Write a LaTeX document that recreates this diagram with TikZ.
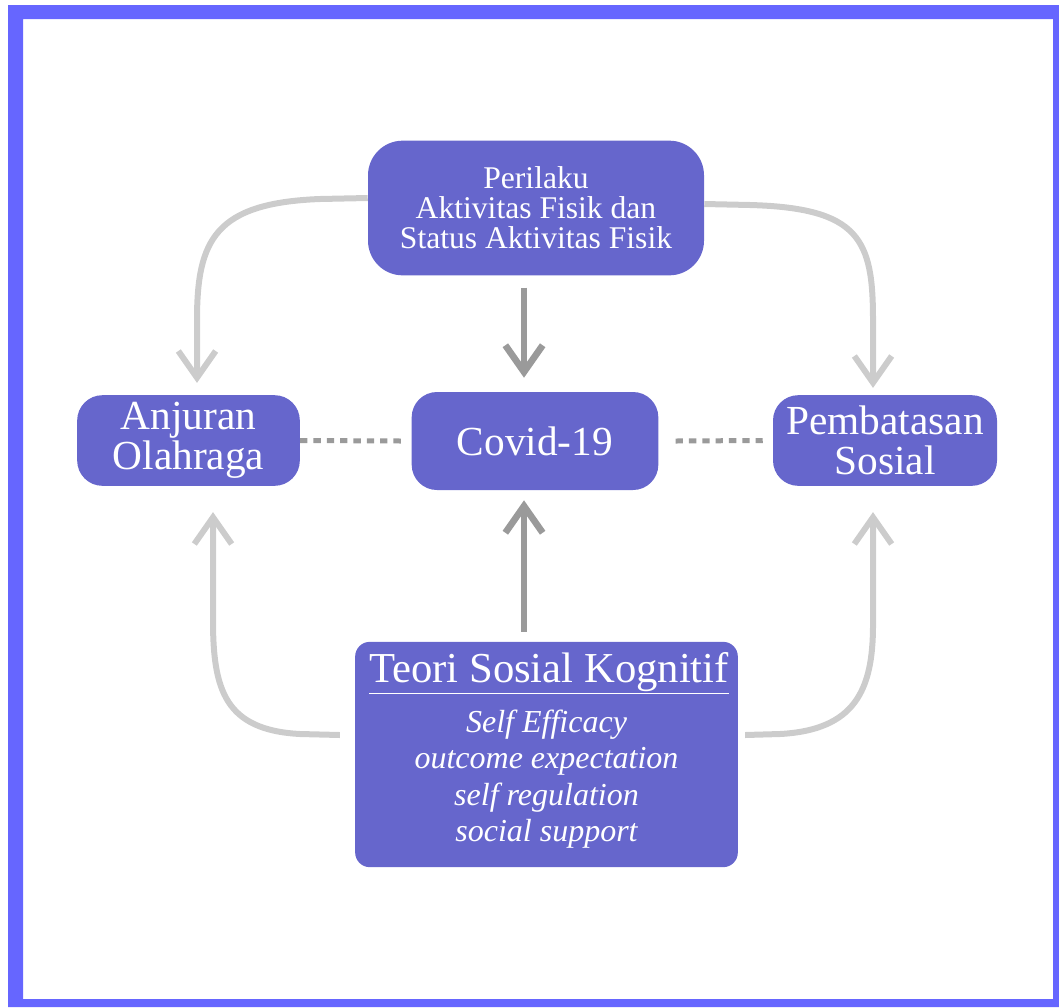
\documentclass[tikz,border=0pt]{standalone}
\usepackage{fontspec}
\setmainfont{Liberation Serif}
\usetikzlibrary{arrows.meta,calc}
\definecolor{framecol}{HTML}{6666FF}
\definecolor{boxfill}{HTML}{6666CC}
\definecolor{darkline}{HTML}{9A9A9A}
\definecolor{lightline}{HTML}{CCCCCC}
\begin{document}
\begin{tikzpicture}[x=0.75pt,y=-0.75pt,
  box/.style={fill=boxfill, draw=none, text=white, align=center, inner sep=1pt},
  txt/.style={text=white, inner sep=0pt, anchor=base},
  darrow/.style={draw=darkline, line width=5pt, -{Straight Barb[length=20pt,width=28pt]}},
  larrow/.style={draw=lightline, line width=4.5pt, -{Straight Barb[length=20pt,width=28pt]}},
  dots/.style={draw=darkline, line width=3.75pt, dash pattern=on 5.5pt off 4.5pt}
]
\useasboundingbox (0,0) rectangle (1059,1007);
\fill[framecol, even odd rule] (8,5) rectangle (1059,1007) (23,19) rectangle (1053,999);

% nodes
\node[box, rounded corners=26pt, minimum width=252pt, minimum height=101pt,
      font=\fontsize{23.7}{22.5}\selectfont] (top) at (536,208)
      {Perilaku\\Aktivitas Fisik dan\\Status Aktivitas Fisik};
\node[box, rounded corners=19pt, minimum width=167pt, minimum height=68pt,
      font=\fontsize{31}{30}\selectfont] (anj) at (188.5,440.5) {Anjuran\\Olahraga};
\node[box, rounded corners=19pt, minimum width=185pt, minimum height=73.5pt,
      font=\fontsize{31}{30}\selectfont] (cov) at (535,441) {Covid-19};
\node[box, rounded corners=19pt, minimum width=168pt, minimum height=68pt,
      font=\fontsize{31}{30}\selectfont] (pemb) at (885,440.5) {Pembatasan\\Sosial};
\node[box, rounded corners=11pt, minimum width=287pt, minimum height=169pt] (teori) at (546.5,754.5) {};

\node[txt, font=\fontsize{32}{32}\selectfont] (title) at (549,682) {\underline{Teori Sosial Kognitif}};
\node[txt, font=\fontsize{24}{24}\selectfont\itshape] (l1) at (546.5,732) {Self Efficacy};
\node[txt, font=\fontsize{24}{24}\selectfont\itshape] (l2) at (546.5,768.5) {outcome expectation};
\node[txt, font=\fontsize{24}{24}\selectfont\itshape] (l3) at (546.5,805) {self regulation};
\node[txt, font=\fontsize{24}{24}\selectfont\itshape] (l4) at (546.5,841) {social support};

% dotted links
\draw[dots] (anj.east) -- ($(cov.west)+(-10,0)$);
\draw[dots] ($(cov.east)+(17,0)$) -- ($(pemb.west)+(-10,0)$);

% straight arrows
\draw[darrow] ($(top.south)+(-12,12)$) -- ($(cov.north)+(-11,-14)$);
\draw[darrow] ($(teori.north)+(-22.5,-10)$) -- ($(cov.south)+(-11,10)$);

% curved arrows
\draw[larrow] ($(top.west)+(0,-10)$) -- (320,199) .. controls (215,203) and (197,240) .. (197,320) -- ($(anj.north)+(8.5,-12)$);
\draw[larrow] ($(top.east)+(0,-4)$) -- (750,205) .. controls (860,208) and (873,240) .. (873,320) -- ($(pemb.north)+(-12,-7)$);
\draw[larrow] ($(teori.west)+(-15,-19.5)$) -- (300,734) .. controls (225,730) and (213,690) .. (213,620) -- ($(anj.south)+(24.5,26)$);
\draw[larrow] ($(teori.east)+(7,-19.5)$) -- (780,734) .. controls (855,730) and (873,690) .. (873,625) -- ($(pemb.south)+(-12,26)$);
\end{tikzpicture}
\end{document}
